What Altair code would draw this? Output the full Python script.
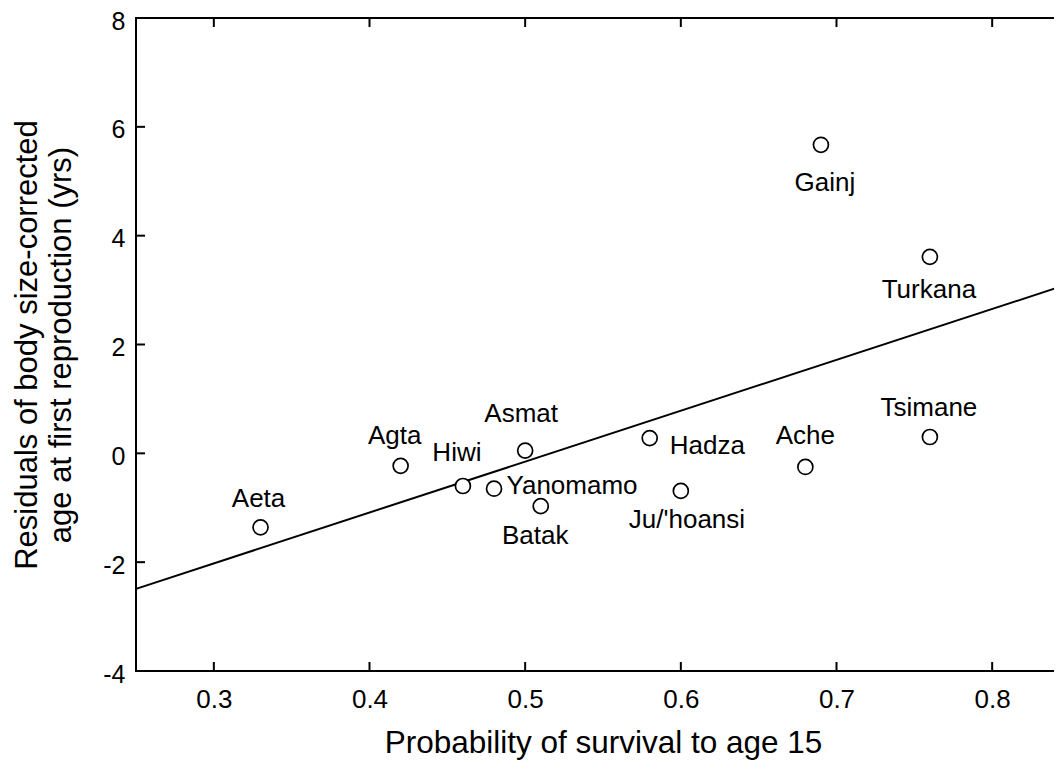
import altair as alt
import pandas as pd

# ---- data ----
groups = ["Aeta", "Agta", "Hiwi", "Yanomamo", "Asmat", "Batak", "Hadza",
          "Ju/'hoansi", "Ache", "Gainj", "Turkana", "Tsimane"]
survival = [0.33, 0.42, 0.46, 0.48, 0.50, 0.51, 0.58, 0.60, 0.68, 0.69, 0.76, 0.76]
residual = [-1.36, -0.23, -0.60, -0.65, 0.05, -0.97, 0.28, -0.69, -0.25, 5.67, 3.61, 0.30]

fit_x = [0.25, 0.85]
fit_y = [-2.49, 3.12]

x_ticks = [0.3, 0.4, 0.5, 0.6, 0.7, 0.8]
y_ticks = [-4, -2, 0, 2, 4, 6, 8]

# ---- style ----
FONT = "Liberation Sans"
W, H = 934, 653
TICK = 9

# label placement (pixel offsets relative to the marker), align
label_style = {
    "Aeta": (-2, -28, "center"),
    "Agta": (-6, -29.5, "center"),
    "Hiwi": (-6, -33, "center"),
    "Asmat": (-4, -36.5, "center"),
    "Yanomamo": (12.5, -2.5, "left"),
    "Batak": (-5.5, 29.5, "center"),
    "Hadza": (20, 7.5, "left"),
    "Ju/'hoansi": (-52, 29.5, "left"),
    "Ache": (0, -30.5, "center"),
    "Gainj": (4, 38.5, "center"),
    "Turkana": (-1, 33.5, "center"),
    "Tsimane": (-1, -29, "center"),
}

pts = pd.DataFrame({"group": groups, "p": survival, "r": residual})
fit = pd.DataFrame({"p": fit_x, "r": fit_y})
xt = pd.DataFrame({"p": x_ticks})
yt = pd.DataFrame({"r": y_ticks})

xscale = alt.Scale(domain=[0.25, 0.85], nice=False, zero=False)
yscale = alt.Scale(domain=[-4, 8], nice=False, zero=False)

xaxis = alt.Axis(
    values=x_ticks, format=".1f", ticks=False, tickSize=0, domain=False, grid=False,
    labelFont=FONT, labelFontSize=26, labelColor="black", labelPadding=15,
    title="Probability of survival to age 15", titleFont=FONT, titleFontSize=31.5,
    titleFontWeight="normal", titleColor="black", titleBaseline="alphabetic",
    titleY=81,
)
yaxis = alt.Axis(
    values=y_ticks, ticks=False, tickSize=0, domain=False, grid=False,
    labelExpr="toString(datum.value)",
    labelFont=FONT, labelFontSize=25, labelColor="black", labelPadding=11,
    labelOffset=3,
    title=["Residuals of body size-corrected", "age at first reproduction (yrs)"],
    titleFont=FONT, titleFontSize=31, titleFontWeight="normal", titleColor="black",
    titleAngle=270, titleBaseline="alphabetic", titleAlign="center",
    titleX=-100, titleY=H / 2, titleLineHeight=34,
)

X = alt.X("p:Q", scale=xscale, axis=xaxis)
Y = alt.Y("r:Q", scale=yscale, axis=yaxis)

line = alt.Chart(fit).mark_line(color="black", strokeWidth=2).encode(x=X, y=Y)

points = alt.Chart(pts).mark_point(
    shape="circle", filled=True, fill="white", stroke="black",
    strokeWidth=1.7, size=225, opacity=1,
).encode(x=X, y=Y)

labels = []
for g in groups:
    dx, dy, al = label_style[g]
    labels.append(
        alt.Chart(pts).transform_filter(alt.datum.group == g).mark_text(
            font=FONT, fontSize=26, color="black", align=al, baseline="middle",
            dx=dx, dy=dy,
        ).encode(x=X, y=Y, text="group:N")
    )

tick_bottom = alt.Chart(xt).mark_rule(color="black", strokeWidth=2).encode(
    x=X, y=alt.value(H), y2=alt.value(H - TICK))
tick_top = alt.Chart(xt).mark_rule(color="black", strokeWidth=2).encode(
    x=X, y=alt.value(0), y2=alt.value(TICK))
tick_left = alt.Chart(yt).mark_rule(color="black", strokeWidth=2).encode(
    y=Y, x=alt.value(0), x2=alt.value(TICK))
tick_right = alt.Chart(yt).mark_rule(color="black", strokeWidth=2).encode(
    y=Y, x=alt.value(W), x2=alt.value(W - TICK))

chart = alt.layer(
    line, tick_bottom, tick_top, tick_left, tick_right, points, *labels
).properties(
    width=W, height=H,
    autosize=alt.AutoSizeParams(type="none"),
    padding={"left": 128, "top": 10, "right": -16, "bottom": 90},
    background="white",
).configure_view(stroke="black", strokeWidth=2)

chart.save("out.html", embed_options={"renderer": "svg", "actions": False})
